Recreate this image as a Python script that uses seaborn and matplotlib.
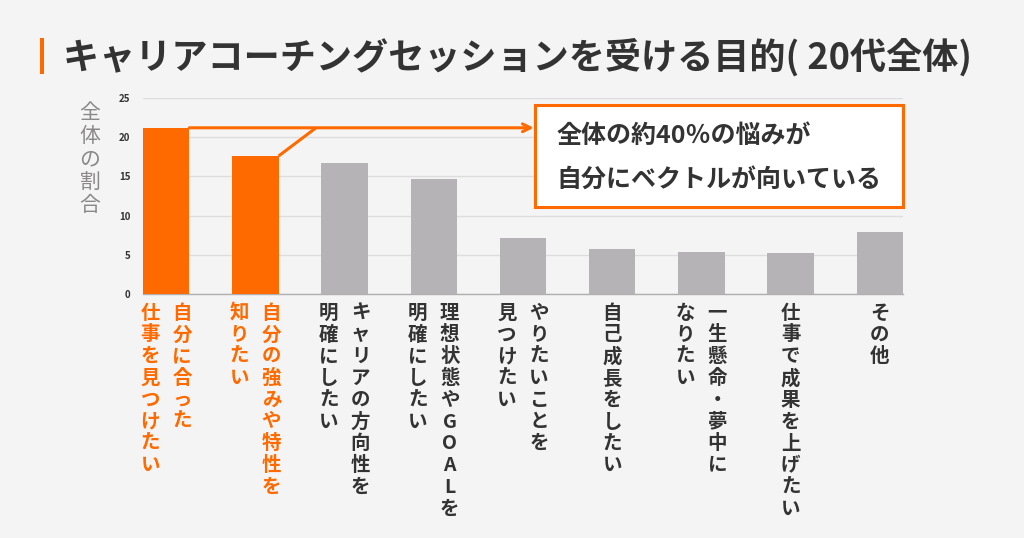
import numpy as np
import pandas as pd
import matplotlib
matplotlib.use("Agg")
import matplotlib.pyplot as plt
from matplotlib.patches import Rectangle
import seaborn as sns

# --- data ---
label_lines = [
    ["自分に合った", "仕事を見つけたい"],
    ["自分の強みや特性を", "知りたい"],
    ["キャリアの方向性を", "明確にしたい"],
    ["理想状態やGOALを", "明確にしたい"],
    ["やりたいことを", "見つけたい"],
    ["自己成長をしたい"],
    ["一生懸命・夢中に", "なりたい"],
    ["仕事で成果を上げたい"],
    ["その他"],
]
values = [21.2, 17.6, 16.7, 14.7, 7.1, 5.7, 5.3, 5.2, 7.9]
highlight = [True, True, False, False, False, False, False, False, False]
y_ticks = [0, 5, 10, 15, 20, 25]

title = "キャリアコーチングセッションを受ける目的( 20代全体)"
ylabel = "全体の割合"
note_lines = ["全体の約40％の悩みが", "自分にベクトルが向いている"]

ORANGE = "#ff6a00"
GRAY = "#b6b3b6"
DARK = "#333333"
BG = "#f5f4f4"

sns.set_theme(style="white")
plt.rcParams["font.family"] = ["Noto Sans CJK JP", "DejaVu Sans"]

df = pd.DataFrame({
    "key": ["".join(l) for l in label_lines],
    "value": values,
})
colors = [ORANGE if h else GRAY for h in highlight]

fig = plt.figure(figsize=(10.24, 5.38), dpi=100, facecolor=BG)
ax = fig.add_axes([143 / 1024, 1 - 294 / 538, 760 / 1024, 196 / 538])
ax.set_facecolor(BG)

sns.barplot(data=df, x="key", y="value", hue="key", palette=colors,
            legend=False, width=0.52, saturation=1, linewidth=0,
            edgecolor="none", ax=ax, zorder=3)

ax.set_xlim(-0.26, len(values) - 1 + 0.26)
ax.set_ylim(0, 25)
ax.set_yticks(y_ticks)
ax.set_yticklabels([str(t) for t in y_ticks], fontsize=7, fontweight="bold", color=DARK)
ax.tick_params(axis="y", length=0, pad=9)
ax.set_xticks([])
ax.set_xlabel("")
ax.set_ylabel("")
ax.grid(axis="y", color="#dedddd", lw=1, zorder=0)
for s in ["top", "right", "left"]:
    ax.spines[s].set_visible(False)
ax.spines["bottom"].set_color("#b0aeae")
ax.spines["bottom"].set_linewidth(1)

# vertical category labels (first line is the right-hand column)
col_gap = 11.5  # points
for i, lines in enumerate(label_lines):
    n = len(lines)
    offsets = [col_gap * ((n - 1) / 2 - k) * 2 / max(n - 1, 1) if n > 1 else 0 for k in range(n)]
    c = ORANGE if highlight[i] else DARK
    for line, dx in zip(lines, offsets):
        ax.annotate("\n".join(line), xy=(i, 0), xycoords="data",
                    xytext=(dx, -7), textcoords="offset points",
                    ha="center", va="top", multialignment="center",
                    fontsize=14, fontweight="bold", color=c, linespacing=1.18,
                    annotation_clip=False)

# y label, stacked vertically
fig.text(90 / 1024, 1 - 102 / 538, "\n".join(ylabel), ha="center", va="top",
         fontsize=15, color="#8a8888", linespacing=1.06)

# callout box
bx0, bx1 = 4.14, len(values) - 1 + 0.26
by0, by1 = 11.1, 24.1
ax.add_patch(Rectangle((bx0, by0), bx1 - bx0, by1 - by0, facecolor="white",
                       edgecolor=ORANGE, lw=2.2, clip_on=False, zorder=5))
ax.text(bx0 + 0.24, by0 + (by1 - by0) * 0.70, note_lines[0], fontsize=18,
        fontweight="bold", color=DARK, va="center", ha="left", zorder=6)
ax.text(bx0 + 0.24, by0 + (by1 - by0) * 0.27, note_lines[1], fontsize=18,
        fontweight="bold", color=DARK, va="center", ha="left", zorder=6)

# connector lines from the two highlighted bars
half = 0.26
ax.annotate("", xy=(bx0 - 0.02, values[0]), xytext=(half, values[0]),
            arrowprops=dict(arrowstyle="->", color=ORANGE, lw=2.2,
                            shrinkA=0, shrinkB=0, mutation_scale=14), zorder=4)
ax.plot([1 + half, 1 + half + 0.42], [values[1], values[0]], color=ORANGE,
        lw=2.2, solid_capstyle="butt", zorder=4)

# title
fig.add_artist(Rectangle((40 / 1024, 1 - 74 / 538), 4 / 1024, 36 / 538,
                         transform=fig.transFigure, facecolor=ORANGE, edgecolor="none"))
fig.text(63 / 1024, 1 - 57 / 538, title, ha="left", va="center",
         fontsize=26, fontweight="bold", color=DARK)

fig.savefig("out.png", dpi=100, facecolor=BG)
